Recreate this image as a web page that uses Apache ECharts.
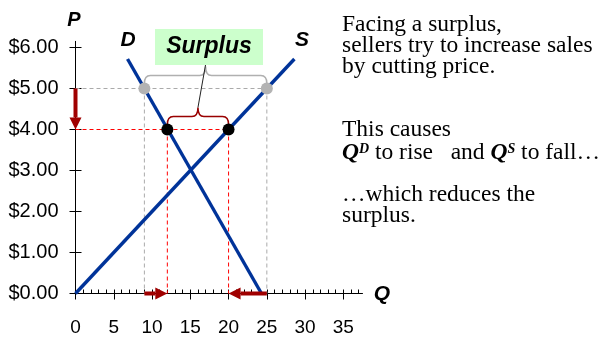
<!DOCTYPE html>
<html>
<head>
<meta charset="utf-8">
<script src="https://cdn.jsdelivr.net/npm/echarts@6/dist/echarts.min.js"></script>
<style>
html,body{margin:0;padding:0;background:#fff;}
#chart{width:603px;height:338px;}
</style>
</head>
<body>
<div id="chart"></div>
<script>
// ---- data ----
const qTicks = [0, 5, 10, 15, 20, 25, 30, 35];
const priceTicks = [0, 1, 2, 3, 4, 5, 6];
const qMax = 37.5;
const pMax = 6.15;
const supplyQ = [0, 28.6];
const supplyP = [0, 5.72];
const demandQ = [6.8, 24.3];
const demandP = [5.72, 0];
const surplusPrice = 5;          // price above equilibrium
const surplusQd = 9, surplusQs = 25;
const newPrice = 4;              // lowered price
const newQd = 12, newQs = 20;
const surplusBraceTipQ = 17;
const newBraceTipQ = 16;

const qMinorTicks = [];
for (let q = 0; q <= 37; q++) qMinorTicks.push(q);

// ---- derived ----
const supplyData = supplyQ.map((q, i) => [q, supplyP[i]]);
const demandData = demandQ.map((q, i) => [q, demandP[i]]);

const BLUE = '#003399';
const DARKRED = '#a00000';
const SANS = "'Liberation Sans', Arial, sans-serif";
const SERIF = "'Liberation Serif', 'Times New Roman', serif";

function arrowItem(params, api) {
  const s = api.coord([api.value(0), api.value(1)]);
  const e = api.coord([api.value(2), api.value(3)]);
  const dx = e[0] - s[0], dy = e[1] - s[1];
  const len = Math.hypot(dx, dy);
  const ux = dx / len, uy = dy / len;
  const nx = -uy, ny = ux;
  const headL = 12, headW = 6, shaft = 2;
  const bx = e[0] - ux * headL, by = e[1] - uy * headL;
  return {
    type: 'group',
    children: [
      { type: 'polygon', shape: { points: [
          [s[0] + nx * shaft, s[1] + ny * shaft], [bx + nx * shaft, by + ny * shaft],
          [bx - nx * shaft, by - ny * shaft], [s[0] - nx * shaft, s[1] - ny * shaft]] },
        style: { fill: DARKRED } },
      { type: 'polygon', shape: { points: [
          [e[0], e[1]], [bx + nx * headW, by + ny * headW], [bx - nx * headW, by - ny * headW]] },
        style: { fill: DARKRED } }
    ]
  };
}

function braceMaker(color) {
  return function (params, api) {
    const L = api.coord([api.value(0), api.value(2)]);
    const R = api.coord([api.value(1), api.value(2)]);
    const C = api.coord([api.value(3), api.value(2)]);
    const y0 = L[1] - 5, y1 = L[1] - 13, yt = L[1] - 22;
    const r = 6;
    const d = 'M' + L[0] + ' ' + y0 +
      ' Q' + L[0] + ' ' + y1 + ' ' + (L[0] + r) + ' ' + y1 +
      ' L' + (C[0] - r) + ' ' + y1 +
      ' Q' + C[0] + ' ' + y1 + ' ' + C[0] + ' ' + yt +
      ' Q' + C[0] + ' ' + y1 + ' ' + (C[0] + r) + ' ' + y1 +
      ' L' + (R[0] - r) + ' ' + y1 +
      ' Q' + R[0] + ' ' + y1 + ' ' + R[0] + ' ' + y0;
    return { type: 'path', shape: { pathData: d }, style: { fill: null, stroke: color, lineWidth: 1.5 } };
  };
}

function connectorItem(params, api) {
  const a = api.coord([api.value(0), api.value(1)]);
  const b = api.coord([api.value(2), api.value(3)]);
  return { type: 'line', shape: { x1: a[0], y1: a[1] - 24, x2: b[0], y2: b[1] - 22 },
    style: { stroke: '#222', lineWidth: 1 } };
}

function segment(coords, color) {
  return { type: 'line', data: coords, showSymbol: false, z: 1, silent: true,
    lineStyle: { color: color, width: 1, type: [4, 3] } };
}

const chart = echarts.init(document.getElementById('chart'), null, { renderer: 'canvas' });

const rightLines = [
  { t: 'Facing a surplus,', y: 24.7 },
  { t: 'sellers try to increase sales', y: 46.3 },
  { t: 'by cutting price.', y: 67 },
  { t: 'This causes', y: 129.7 },
  { t: '{q|Q}{sup|D} to rise   and {q|Q}{sup|S} to fall…', y: 153 },
  { t: '…which reduces the', y: 194.7 },
  { t: 'surplus.', y: 216.3 }
];

const GREY = '#aaaaaa';
const RED = '#ff0000';
const TXT = 23.5;

const option = {
  animation: false,
  backgroundColor: '#fff',
  grid: { left: 75.5, top: 293.5 - pMax * 41, width: 287, height: pMax * 41, containLabel: false },
  xAxis: [
    { type: 'value', min: 0, max: qMax, position: 'bottom',
      axisLine: { show: true, onZero: false, lineStyle: { color: '#000', width: 1 } },
      axisTick: { show: true, inside: true, length: 4, customValues: qMinorTicks, lineStyle: { color: '#000' } },
      axisLabel: { show: true, customValues: qTicks, fontSize: 19, fontFamily: SANS, color: '#000', margin: 25 },
      splitLine: { show: false } },
    { type: 'value', min: 0, max: qMax, position: 'bottom',
      axisLine: { show: false },
      axisTick: { show: true, inside: false, length: 6, customValues: qTicks, lineStyle: { color: '#000' } },
      axisLabel: { show: false },
      splitLine: { show: false } }
  ],
  yAxis: [
    { type: 'value', min: 0, max: pMax, position: 'left',
      axisLine: { show: true, onZero: false, lineStyle: { color: '#000', width: 1 } },
      axisTick: { show: true, inside: true, length: 6, customValues: priceTicks, lineStyle: { color: '#000' } },
      axisLabel: { show: true, customValues: priceTicks, fontSize: 20, fontFamily: SANS, color: '#000', margin: 17,
        formatter: v => '$' + v.toFixed(2) },
      splitLine: { show: false } },
    { type: 'value', min: 0, max: pMax, position: 'left',
      axisLine: { show: false },
      axisTick: { show: true, inside: false, length: 6, customValues: priceTicks, lineStyle: { color: '#000' } },
      axisLabel: { show: false },
      splitLine: { show: false } }
  ],
  series: [
    segment([[0, surplusPrice], [surplusQs, surplusPrice]], GREY),
    segment([[surplusQd, surplusPrice], [surplusQd, 0]], GREY),
    segment([[surplusQs, surplusPrice], [surplusQs, 0]], GREY),
    segment([[0, newPrice], [newQs, newPrice]], RED),
    segment([[newQd, newPrice], [newQd, 0]], RED),
    segment([[newQs, newPrice], [newQs, 0]], RED),
    { name: 'S', type: 'line', data: supplyData, showSymbol: false, z: 3,
      lineStyle: { color: BLUE, width: 3.4 } },
    { name: 'D', type: 'line', data: demandData, showSymbol: false, z: 3,
      lineStyle: { color: BLUE, width: 3.4 } },
    { type: 'scatter', z: 5, symbolSize: 12, itemStyle: { color: '#b3b3b3', opacity: 1 },
      data: [[surplusQd, surplusPrice], [surplusQs, surplusPrice]] },
    { type: 'scatter', z: 5, symbolSize: 12, itemStyle: { color: '#000', opacity: 1 },
      data: [[newQd, newPrice], [newQs, newPrice]] },
    { type: 'custom', coordinateSystem: 'cartesian2d', z: 6, clip: false, renderItem: arrowItem,
      data: [[surplusQd, 0, newQd, 0], [surplusQs, 0, newQs, 0], [0, surplusPrice, 0, newPrice]] },
    { type: 'custom', coordinateSystem: 'cartesian2d', z: 4, clip: false, renderItem: braceMaker('#b0b0b0'),
      data: [[surplusQd, surplusQs, surplusPrice, surplusBraceTipQ]] },
    { type: 'custom', coordinateSystem: 'cartesian2d', z: 4, clip: false, renderItem: braceMaker('#990000'),
      data: [[newQd, newQs, newPrice, newBraceTipQ]] },
    { type: 'custom', coordinateSystem: 'cartesian2d', z: 4, clip: false, renderItem: connectorItem,
      data: [[surplusBraceTipQ, surplusPrice, newBraceTipQ, newPrice]] }
  ],
  graphic: [
    { type: 'rect', z: 10, shape: { x: 155, y: 29, width: 108, height: 36 }, style: { fill: '#ccffcc' } },
    { type: 'text', z: 11, x: 209, y: 47, style: { text: 'Surplus', fontSize: 23, fontWeight: 'bold', fontStyle: 'italic',
      fontFamily: SANS, fill: '#000', align: 'center', verticalAlign: 'middle' } },
    { type: 'text', z: 11, x: 128, y: 40, style: { text: 'D', fontSize: 21, fontWeight: 'bold', fontStyle: 'italic',
      fontFamily: SANS, fill: '#000', align: 'center', verticalAlign: 'middle' } },
    { type: 'text', z: 11, x: 302, y: 40, style: { text: 'S', fontSize: 21, fontWeight: 'bold', fontStyle: 'italic',
      fontFamily: SANS, fill: '#000', align: 'center', verticalAlign: 'middle' } },
    { type: 'text', z: 11, x: 74, y: 20, style: { text: 'P', fontSize: 20, fontWeight: 'bold', fontStyle: 'italic',
      fontFamily: SANS, fill: '#000', align: 'center', verticalAlign: 'middle' } },
    { type: 'text', z: 11, x: 382, y: 294, style: { text: 'Q', fontSize: 21, fontWeight: 'bold', fontStyle: 'italic',
      fontFamily: SANS, fill: '#000', align: 'center', verticalAlign: 'middle' } }
  ].concat(rightLines.map(l => ({
    type: 'text', z: 11, x: 342, y: l.y,
    style: { text: l.t, fontSize: TXT, fontFamily: SERIF, fill: '#000', align: 'left', verticalAlign: 'middle',
      rich: {
        q: { fontSize: TXT, fontFamily: SERIF, fontWeight: 'bold', fontStyle: 'italic', fill: '#000' },
        sup: { fontSize: 14, fontFamily: SERIF, fontWeight: 'bold', fontStyle: 'italic', fill: '#000',
          verticalAlign: 'bottom', padding: [0, 0, 9, 0] }
      } }
  })))
};

chart.setOption(option);
</script>
</body>
</html>
